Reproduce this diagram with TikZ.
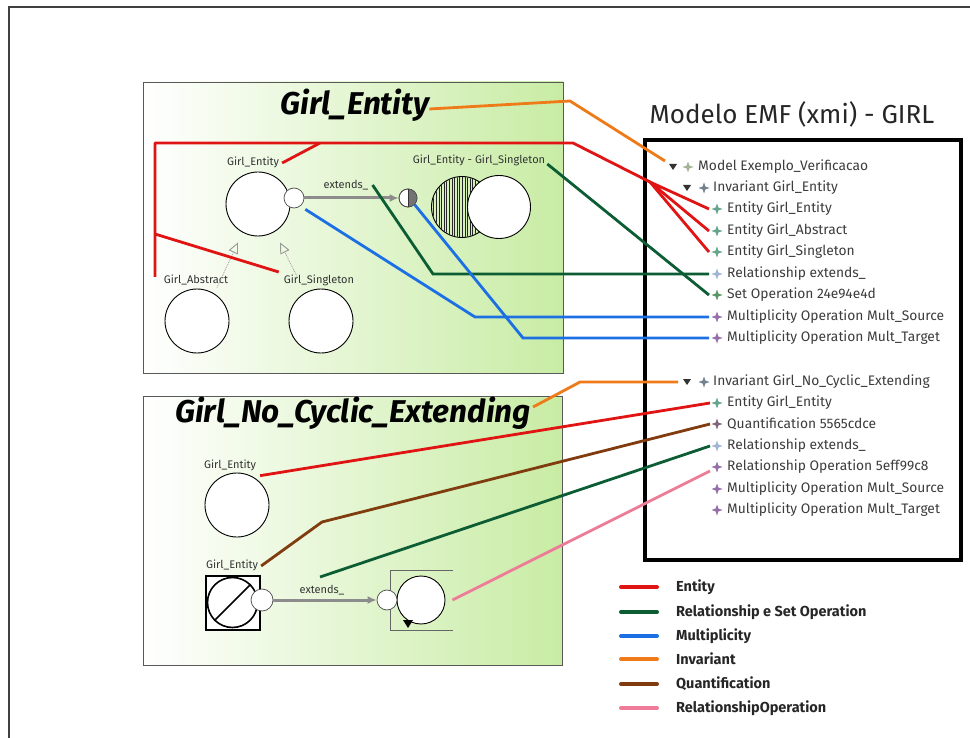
\documentclass[tikz,border=0pt]{standalone}
\usepackage{fontspec}
\setmainfont{Fira Sans}
\usetikzlibrary{arrows.meta,calc}

\definecolor{cEntity}{RGB}{225,20,20}
\definecolor{cRel}{RGB}{12,92,52}
\definecolor{cMult}{RGB}{28,112,228}
\definecolor{cInv}{RGB}{238,122,24}
\definecolor{cQuant}{RGB}{128,60,14}
\definecolor{cRelOp}{RGB}{238,124,152}
\definecolor{panelgreen}{RGB}{200,236,164}
\definecolor{itemtext}{RGB}{60,60,60}
\definecolor{stModel}{RGB}{165,180,150}
\definecolor{stInv}{RGB}{115,130,140}
\definecolor{stEnt}{RGB}{100,165,140}
\definecolor{stRel}{RGB}{160,180,215}
\definecolor{stSet}{RGB}{90,150,100}
\definecolor{stMult}{RGB}{150,110,170}
\definecolor{stQuant}{RGB}{130,100,125}

% four-pointed tree icon and expand triangle
\newcommand\emfstar[2]{\fill[#2,shift={(#1)}] (0,-5.5) -- (1.4,-1.4) -- (5.5,0) -- (1.4,1.4) -- (0,5.5) -- (-1.4,1.4) -- (-5.5,0) -- (-1.4,-1.4) -- cycle;}
\newcommand\emftri[1]{\fill[black!80,shift={(#1)}] (-4,-3) -- (4,-3) -- (0,3) -- cycle;}

\tikzset{
  panel/.style={draw=black!65, line width=0.9pt, left color=white, right color=panelgreen, inner sep=0pt, outer sep=0pt},
  ptitle/.style={font=\fontsize{31.5}{33}\selectfont\bfseries\itshape, text=black, inner sep=0pt},
  entity/.style={circle, draw=black, fill=white, line width=0.9pt, minimum size=64pt, inner sep=0pt},
  port/.style={circle, draw=black!70, fill=white, line width=0.7pt, minimum size=20pt, inner sep=0pt},
  lbl/.style={font=\fontsize{11}{12}\selectfont, text=black!80, inner sep=1pt},
  item/.style={anchor=west, font=\fontsize{13.8}{15}\selectfont, text=itemtext, inner sep=0pt},
  relarrow/.style={draw=black!45, line width=3pt, -{Latex[length=9pt,width=8pt]}},
  inh/.style={draw=black!40, densely dotted, line width=0.8pt, -{Triangle[open,length=11pt,width=10pt,line width=0.9pt]}},
  conn/.style={line width=2.8pt},
  legline/.style={line width=4pt, line cap=round},
  legtext/.style={anchor=west, font=\fontsize{14.5}{16}\selectfont\bfseries, text=black!85, inner sep=0pt}
}

\begin{document}
\begin{tikzpicture}[x=1pt,y=-1pt]
\useasboundingbox (0,0) rectangle (970,738);

% outer frame
\draw[line width=1.6pt, black!75] (9,738) -- (9,7) -- (970,7);

% ---------- panel Girl_Entity ----------
\node[panel, minimum width=420pt, minimum height=291pt] (p1) at (353,227.5) {};
\node[ptitle] (t1) at (355,105) {Girl\_Entity};

\node[entity] (ge1) at (258,204) {};
\node[port] (pt1) at (294,198) {};
\node[lbl] (ge1l) at (253,162) {Girl\_Entity};

\node[circle, draw=black!70, fill=white, line width=0.7pt, minimum size=18pt, inner sep=0pt] (hf) at (408,198) {};
\begin{scope}
  \clip (408,180) rectangle (420,216);
  \fill[black!55] (hf.center) circle (8.6);
\end{scope}
\draw[black!70, line width=0.7pt] (hf.center) circle (9);
\draw[black!80, line width=0.8pt] (hf.north) -- (hf.south);
\node[lbl] (extl) at (346,185) {extends\_};
\draw[relarrow] (pt1) -- (hf);

% set operation: hatched circle partly covered by a plain one
\node[circle, draw=black, line width=0.9pt, minimum size=61pt, inner sep=0pt] (vA) at (462,207) {};
\begin{scope}
  \clip (vA.center) circle (30);
  \foreach \hx in {0,...,24} \draw[black!85, line width=0.45pt] (431+2.6*\hx,170) -- (431+2.6*\hx,245);
\end{scope}
\node[entity, minimum size=63pt] (vB) at (499,207) {};
\node[lbl] (vl) at (479,160) {Girl\_Entity - Girl\_Singleton};

\node[entity] (ga) at (197,321) {};
\node[lbl] (gal) at (196,280) {Girl\_Abstract};
\node[entity] (gs) at (321,321) {};
\node[lbl] (gsl) at (319,280) {Girl\_Singleton};
\draw[inh] ([shift={(20,-1)}]ga.north) -- ([shift={(-20,6)}]ge1.south);
\draw[inh] ([shift={(-24,-12)}]gs.north) -- ([shift={(22,6)}]ge1.south);

% ---------- panel Girl_No_Cyclic_Extending ----------
\node[panel, minimum width=419pt, minimum height=269pt] (p2) at (352.5,530.5) {};
\node[ptitle] (t2) at (353,413) {Girl\_No\_Cyclic\_Extending};

\node[entity] (ge2) at (237,505) {};
\node[lbl] (ge2l) at (230,465) {Girl\_Entity};

\node[draw=black, fill=white, line width=2pt, minimum size=54pt, inner sep=0pt] (nsq) at (232.5,602.5) {};
\node[circle, draw=black, line width=1.6pt, minimum size=50pt, inner sep=0pt] (nci) at (232.5,602.5) {};
\draw[line width=1.6pt] (nci.south west) -- (nci.north east);
\node[lbl] (ge3l) at (232,565) {Girl\_Entity};
\node[port, minimum size=22pt] (pt3) at (262,600) {};

\draw[black!60, line width=0.6pt] (453,570) -| (390,630) -- (453,630);
\node[entity, minimum size=48pt] (ro) at (421,600) {};
\fill[black] (403,620) -- (413,620) -- (408,628) -- cycle;
\node[port] (pt4) at (387,600) {};
\node[lbl] (ext2l) at (322,590) {extends\_};
\draw[relarrow] (pt3) -- (pt4);

% ---------- EMF tree ----------
\node[font=\fontsize{26}{28}\selectfont, text=black!85, inner sep=0pt] (emft) at (792,114) {Modelo EMF (xmi) - GIRL};
\draw[line width=4pt] (645,140) rectangle (961,560);

\coordinate (tr-model) at (673,167);
\coordinate (s-model) at (688,167);
\coordinate (tr-inv1) at (687,188);
\coordinate (s-inv1) at (704,188);
\coordinate (s-e1) at (717,209);
\coordinate (s-e2) at (717,231);
\coordinate (s-e3) at (717,252);
\coordinate (s-rel1) at (717,274);
\coordinate (s-set) at (717,295);
\coordinate (s-ms1) at (717,317);
\coordinate (s-mt1) at (717,338);
\coordinate (tr-inv2) at (687,382);
\coordinate (s-inv2) at (704,382);
\coordinate (s-e4) at (717,403);
\coordinate (s-q) at (717,424);
\coordinate (s-rel2) at (717,446);
\coordinate (s-rop) at (717,467);
\coordinate (s-ms2) at (717,489);
\coordinate (s-mt2) at (717,510);

\emftri{tr-model} \emfstar{s-model}{stModel}
\emftri{tr-inv1} \emfstar{s-inv1}{stInv}
\emfstar{s-e1}{stEnt} \emfstar{s-e2}{stEnt} \emfstar{s-e3}{stEnt}
\emfstar{s-rel1}{stRel} \emfstar{s-set}{stSet}
\emfstar{s-ms1}{stMult} \emfstar{s-mt1}{stMult}
\emftri{tr-inv2} \emfstar{s-inv2}{stInv}
\emfstar{s-e4}{stEnt} \emfstar{s-q}{stQuant} \emfstar{s-rel2}{stRel}
\emfstar{s-rop}{stMult} \emfstar{s-ms2}{stMult} \emfstar{s-mt2}{stMult}

\node[item] (i-model) at (698,167) {Model Exemplo\_Verificacao};
\node[item] (i-inv1) at (713,188) {Invariant Girl\_Entity};
\node[item] (i-e1) at (727,209) {Entity Girl\_Entity};
\node[item] (i-e2) at (727,231) {Entity Girl\_Abstract};
\node[item] (i-e3) at (727,252) {Entity Girl\_Singleton};
\node[item] (i-rel1) at (727,274) {Relationship extends\_};
\node[item] (i-set) at (727,295) {Set Operation 24e94e4d};
\node[item] (i-ms1) at (727,317) {Multiplicity Operation Mult\_Source};
\node[item] (i-mt1) at (727,338) {Multiplicity Operation Mult\_Target};
\node[item] (i-inv2) at (713,382) {Invariant Girl\_No\_Cyclic\_Extending};
\node[item] (i-e4) at (727,403) {Entity Girl\_Entity};
\node[item] (i-q) at (727,424) {Quantification 5565cdce};
\node[item] (i-rel2) at (727,446) {Relationship extends\_};
\node[item] (i-rop) at (727,467) {Relationship Operation 5eff99c8};
\node[item] (i-ms2) at (727,489) {Multiplicity Operation Mult\_Source};
\node[item] (i-mt2) at (727,510) {Multiplicity Operation Mult\_Target};

% ---------- mapping connectors ----------
% invariants
\draw[conn, cInv] ([yshift=-4]t1.east) -- (570,101) -- ([shift={(-8,-6)}]tr-model);
\draw[conn, cInv] ([shift={(2,-6)}]t2.east) -- (580,382) -- ([xshift=-9]tr-inv2);

% entities
\coordinate (rstart) at (155,277);
\coordinate (rjoin) at (155,234);
\coordinate (rb) at (650,182);
\draw[conn, cEntity, line join=round] (rstart) |- (573,143) -- (rb);
\draw[conn, cEntity] ([xshift=-8]s-e1) -- (rb) -- ([xshift=-8]s-e2);
\draw[conn, cEntity] (rb) -- ([xshift=-8]s-e3);
\draw[conn, cEntity] (rjoin) -- ([shift={(-4,-8)}]gsl.west);
\draw[conn, cEntity] ([shift={(2,1)}]ge1l.east) -- (320,143);
\draw[conn, cEntity] ([shift={(3,4)}]ge2l.south east) -- ([xshift=-7]s-e4);

% relationships and set operation
\draw[conn, cRel] ([shift={(3,0)}]extl.east) -- (433,274) -- ([xshift=-8]s-rel1);
\draw[conn, cRel] ([shift={(1,4)}]vl.east) -- ([xshift=-8]s-set);
\coordinate (g2) at (320,577);
\draw[conn, cRel] (g2) -- ([xshift=-7]s-rel2);

% multiplicities
\draw[conn, cMult] ([shift={(4,4)}]pt1.south east) -- (475,317) -- ([xshift=-8]s-ms1);
\draw[conn, cMult] (hf.south east) -- (523,338) -- ([xshift=-8]s-mt1);

% quantification and relationship operation
\draw[conn, cQuant] ([shift={(2,1)}]ge3l.east) -- (322,522) -- ([xshift=-7]s-q);
\draw[conn, cRelOp] ([xshift=7]ro.east) -- ([shift={(-7,4)}]s-rop);

% ---------- legend ----------
\draw[legline, cEntity] (621,587) -- (657,587);
\node[legtext] (lg1) at (676,587) {Entity};
\draw[legline, cRel] (621,612) -- (657,612);
\node[legtext] (lg2) at (676,612) {Relationship e Set Operation};
\draw[legline, cMult] (621,636) -- (657,636);
\node[legtext] (lg3) at (676,636) {Multiplicity};
\draw[legline, cInv] (621,659) -- (657,659);
\node[legtext] (lg4) at (676,659) {Invariant};
\draw[legline, cQuant] (621,684) -- (657,684);
\node[legtext] (lg5) at (676,684) {Quantification};
\draw[legline, cRelOp] (621,708) -- (657,708);
\node[legtext] (lg6) at (676,708) {RelationshipOperation};
\end{tikzpicture}
\end{document}
